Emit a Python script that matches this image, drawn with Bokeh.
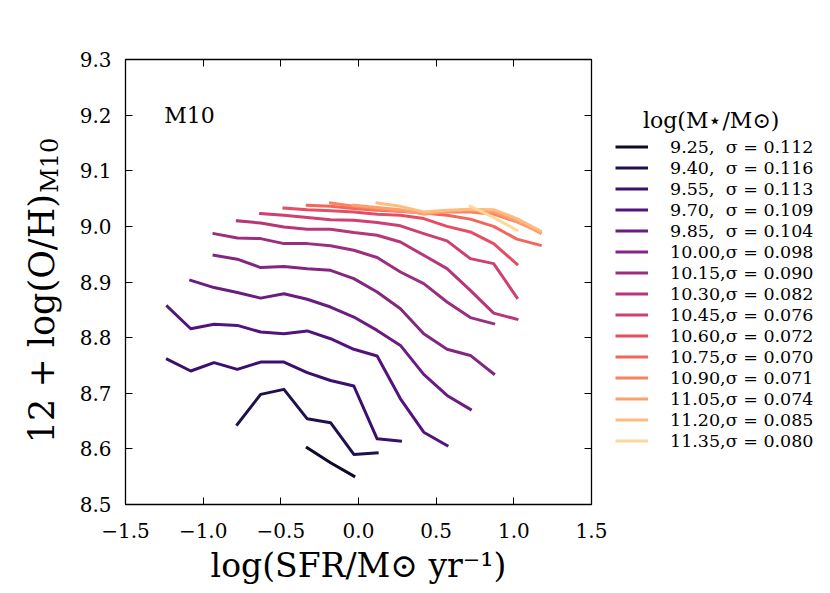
import numpy as np
from bokeh.plotting import figure
from bokeh.layouts import row
from bokeh.models import (Range1d, LinearAxis, Legend, LegendItem, Label,
                          FixedTicker, CustomJSTickFormatter)
from bokeh.palettes import Magma256
from bokeh.embed import file_html
from bokeh.resources import INLINE

# ---------------- data ----------------
sfr_bins = [-1.23, -1.08, -0.93, -0.78, -0.63, -0.48, -0.33, -0.18, -0.03,
            0.12, 0.27, 0.42, 0.57, 0.72, 0.87, 1.02, 1.17]

mass_labels = ["9.25", "9.40", "9.55", "9.70", "9.85", "10.00", "10.15", "10.30",
               "10.45", "10.60", "10.75", "10.90", "11.05", "11.20", "11.35"]
sigma_labels = ["0.112", "0.116", "0.113", "0.109", "0.104", "0.098", "0.090", "0.082",
                "0.076", "0.072", "0.070", "0.071", "0.074", "0.085", "0.080"]
# index of the first SFR bin of each mass curve
start_bin = [6, 3, 0, 0, 1, 2, 2, 3, 4, 5, 6, 7, 8, 9, 13]

oh_925 = [8.602, 8.575, 8.551]
oh_940 = [8.644, 8.698, 8.707, 8.654, 8.647, 8.590, 8.593]
oh_955 = [8.761, 8.740, 8.755, 8.743, 8.756, 8.756, 8.737, 8.723, 8.713, 8.618, 8.614]
oh_970 = [8.856, 8.816, 8.824, 8.822, 8.810, 8.807, 8.812, 8.798, 8.779, 8.767, 8.690,
          8.630, 8.606]
oh_985 = [8.903, 8.890, 8.881, 8.871, 8.879, 8.869, 8.855, 8.837, 8.813, 8.786, 8.734,
          8.696, 8.671]
oh_1000 = [8.948, 8.941, 8.926, 8.928, 8.924, 8.921, 8.906, 8.882, 8.852, 8.807, 8.779,
           8.768, 8.735]
oh_1015 = [8.987, 8.979, 8.978, 8.969, 8.969, 8.965, 8.957, 8.944, 8.918, 8.897, 8.864,
           8.836, 8.825]
oh_1030 = [9.010, 9.006, 8.999, 8.995, 8.995, 8.989, 8.984, 8.972, 8.948, 8.924, 8.885,
           8.844, 8.833]
oh_1045 = [9.023, 9.020, 9.016, 9.012, 9.011, 9.007, 9.001, 8.987, 8.974, 8.942, 8.933,
           8.872]
oh_1060 = [9.033, 9.030, 9.028, 9.026, 9.022, 9.020, 9.014, 9.000, 8.990, 8.969, 8.932]
oh_1075 = [9.038, 9.036, 9.032, 9.029, 9.027, 9.024, 9.020, 9.013, 9.000, 8.977, 8.966]
oh_1090 = [9.042, 9.036, 9.031, 9.027, 9.025, 9.026, 9.026, 9.022, 9.008, 8.990]
oh_1105 = [9.038, 9.034, 9.030, 9.022, 9.027, 9.030, 9.026, 9.010, 8.988]
oh_1120 = [9.042, 9.036, 9.026, 9.029, 9.031, 9.030, 9.014, 8.992]
oh_1135 = [9.036, 9.016, 8.993]

oh_curves = [oh_925, oh_940, oh_955, oh_970, oh_985, oh_1000, oh_1015, oh_1030,
             oh_1045, oh_1060, oh_1075, oh_1090, oh_1105, oh_1120, oh_1135]

x_ticks = [-1.5, -1.0, -0.5, 0.0, 0.5, 1.0, 1.5]
y_ticks = [8.5, 8.6, 8.7, 8.8, 8.9, 9.0, 9.1, 9.2, 9.3]

x_title = "log(SFR/M\u2299 yr\u207b\u00b9)"
y_title_main = "12 + log(O/H)"
y_title_sub = "M10"
legend_title = "log(M\u22c6/M\u2299)"
panel_tag = "M10"

# ---------------- styling ----------------
SERIF = "DejaVu Serif"
color_idx = np.linspace(20, 235, len(oh_curves)).round().astype(int)
colors = [Magma256[i] for i in color_idx]

p = figure(frame_width=466, frame_height=445, x_range=Range1d(-1.5, 1.5),
           y_range=Range1d(8.5, 9.3), output_backend="svg", toolbar_location=None,
           min_border_left=125, min_border_right=20, min_border_top=59,
           min_border_bottom=89)
p.grid.visible = False
p.outline_line_color = "black"
p.outline_line_width = 1.3
p.background_fill_color = "white"
p.border_fill_color = "white"

fmt = CustomJSTickFormatter(code="return (tick < -1e-9 ? '\u2212' : '') + Math.abs(tick).toFixed(1);")
blank = CustomJSTickFormatter(code="return '';")


def style_axis(ax, ticks, formatter, standoff, size="20px", ticks_on=True):
    ax.ticker = FixedTicker(ticks=ticks)
    ax.formatter = formatter
    ax.major_tick_in = 7 if ticks_on else 0
    ax.major_tick_out = 0
    ax.major_tick_line_color = "black" if ticks_on else None
    ax.major_tick_line_width = 1
    ax.minor_tick_line_color = None
    ax.axis_line_color = None
    ax.major_label_text_font = SERIF
    ax.major_label_text_font_size = size
    ax.major_label_text_color = "black"
    ax.major_label_standoff = standoff


style_axis(p.xaxis[0], x_ticks, fmt, 18)
style_axis(p.yaxis[0], y_ticks, fmt, 14)
p.xaxis.axis_label = x_title
p.xaxis.axis_label_text_font = SERIF
p.xaxis.axis_label_text_font_size = "33px"
p.xaxis.axis_label_text_font_style = "normal"
p.xaxis.axis_label_text_color = "black"
p.xaxis.axis_label_standoff = 5

# y-axis title "12 + log(O/H)" with subscript "M10", as oriented labels of two
# tick-less helper axes on the left
ymain_ax = LinearAxis()
style_axis(ymain_ax, [8.834], CustomJSTickFormatter(args=dict(t=y_title_main), code="return t;"),
           14, size="35px", ticks_on=False)
ymain_ax.major_label_orientation = "parallel"
ysub_ax = LinearAxis()
style_axis(ysub_ax, [9.11], CustomJSTickFormatter(args=dict(t=y_title_sub), code="return t;"),
           -44, size="24px", ticks_on=False)
ysub_ax.major_label_orientation = "parallel"
p.add_layout(ymain_ax, "left")
p.add_layout(ysub_ax, "left")

top_ax = LinearAxis()
right_ax = LinearAxis()
style_axis(top_ax, x_ticks, blank, 0)
style_axis(right_ax, y_ticks, blank, 0)
p.add_layout(top_ax, "above")
p.add_layout(right_ax, "right")

curve_x = []
for i, ys in enumerate(oh_curves):
    s = start_bin[i]
    xs = sfr_bins[s:s + len(ys)]
    curve_x.append(xs)
    p.line(xs, ys, line_color=colors[i], line_width=3, line_join="round",
           line_cap="square")

# panel tag
p.add_layout(Label(x=-1.25, y=9.2, text=panel_tag, text_align="left",
                   text_baseline="alphabetic", text_font=SERIF, text_font_size="22px",
                   text_color="black"))

# ---------------- legend panel (frame aligned with the main plot) ----------------
lf = figure(width=219, height=593, x_range=Range1d(-1.5, 1.5), y_range=Range1d(0, 1),
            x_axis_type=None, y_axis_type=None, output_backend="svg",
            toolbar_location=None, min_border=0)
lf.grid.visible = False
lf.outline_line_color = None
lf.background_fill_color = "white"
lf.border_fill_color = "white"

items = []
for i, ys in enumerate(oh_curves):
    # same curves, outside this panel's y-range: only their legend swatches show
    r = lf.line(curve_x[i], ys, line_color=colors[i], line_width=3, line_cap="butt")
    m = mass_labels[i]
    sep = ",\u00a0\u00a0" if len(m) == 4 else ","
    items.append(LegendItem(label=f"{m}{sep}\u03c3 = {sigma_labels[i]}", renderers=[r]))

legend = Legend(items=items, location=(4, 53), padding=0, margin=0, spacing=0,
                glyph_width=33, glyph_height=21, label_height=21, label_standoff=22,
                label_text_font=SERIF, label_text_font_size="17.5px",
                label_text_color="black", border_line_color=None,
                background_fill_alpha=0,
                title="\u00a0" * 4 + legend_title, title_text_font=SERIF,
                title_text_font_size="22px", title_text_font_style="normal",
                title_text_color="black", title_standoff=3)
lf.add_layout(legend, "center")

layout = row(p, lf, spacing=0)
open("out.html", "w").write(file_html(layout, INLINE))
